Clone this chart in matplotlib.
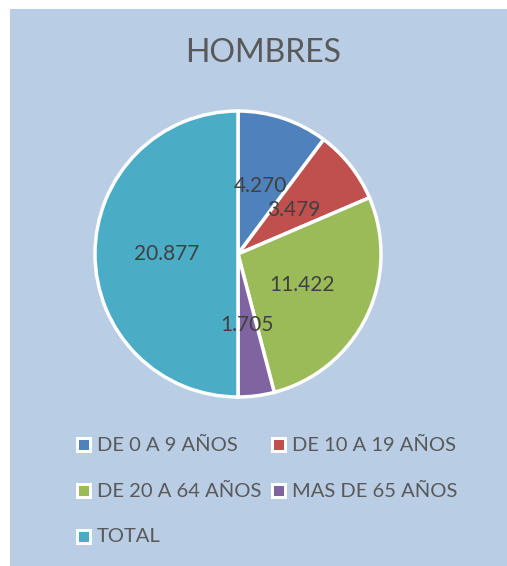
import numpy as np
import matplotlib.pyplot as plt
from matplotlib.patches import Rectangle

plt.rcParams['font.family'] = ['Lato', 'DejaVu Sans']

# datos del gráfico
categorias = ['DE 0 A 9 AÑOS', 'DE 10 A 19 AÑOS', 'DE 20 A 64 AÑOS', 'MAS DE 65 AÑOS', 'TOTAL']
valores = [4270, 3479, 11422, 1705, 20877]
colores = ['#4F81BD', '#C0504D', '#9BBB59', '#8064A2', '#4BACC6']
titulo = 'HOMBRES'

W, H = 507, 566
fig = plt.figure(figsize=(W / 100, H / 100), dpi=100, facecolor='white')

# fondo del gráfico
fig.patches.append(Rectangle((10 / W, 0), 1 - 10 / W, 1 - 9 / H,
                             transform=fig.transFigure, facecolor='#B9CDE5',
                             edgecolor='none', zorder=-10))

# pastel
cx, cy, r = 238, 254, 143
ax = fig.add_axes([(cx - r) / W, 1 - (cy + r) / H, 2 * r / W, 2 * r / H])
ax.set_facecolor('none')


def fmt(v):
    return f'{v:,}'.replace(',', '.')


wedges, _ = ax.pie(valores, colors=colores, startangle=90, counterclock=False,
                   wedgeprops=dict(edgecolor='white', linewidth=2.5))
ax.set_aspect('equal')
ax.set_xlim(-1, 1)
ax.set_ylim(-1, 1)
ax.axis('off')

# etiquetas de datos
for w, v in zip(wedges, valores):
    ang = np.deg2rad((w.theta1 + w.theta2) / 2)
    ax.text(0.5 * np.cos(ang), 0.5 * np.sin(ang), fmt(v), ha='center', va='center',
            fontsize=15, color='#404040')

fig.text(263 / W, 1 - 53 / H, titulo, ha='center', va='center',
         fontsize=23, color='#595959')

# leyenda
cols_x = [76, 271]
rows_y = [445, 491, 537]
for i, (cat, c) in enumerate(zip(categorias, colores)):
    x = cols_x[i % 2]
    y = rows_y[i // 2]
    fig.patches.append(Rectangle((x / W, 1 - (y + 8) / H), 16 / W, 16 / H,
                                 transform=fig.transFigure, facecolor='white',
                                 edgecolor='none', zorder=2))
    fig.patches.append(Rectangle(((x + 3) / W, 1 - (y + 5) / H), 10 / W, 10 / H,
                                 transform=fig.transFigure, facecolor=c,
                                 edgecolor='none', zorder=3))
    fig.text((x + 21) / W, 1 - y / H, cat, ha='left', va='center',
             fontsize=14.5, color='#595959')

fig.savefig('out.png', dpi=100, facecolor='white')
